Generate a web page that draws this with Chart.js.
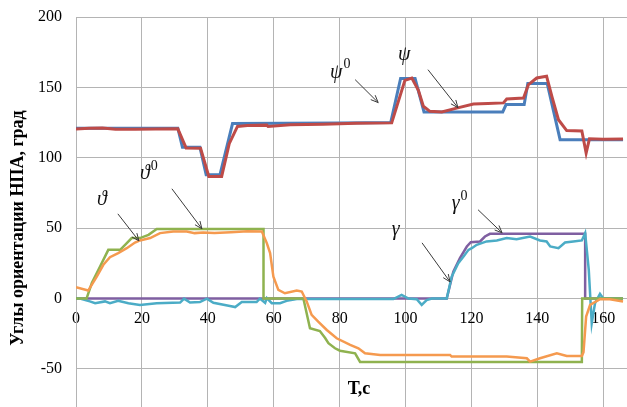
<!DOCTYPE html>
<html>
<head>
<meta charset="utf-8">
<script src="https://cdn.jsdelivr.net/npm/chart.js@4.4.1/dist/chart.umd.min.js"></script>
<style>
html, body { margin: 0; padding: 0; background: #fff; }
canvas { display: block; }
</style>
</head>
<body>
<canvas id="chart" width="627" height="407"></canvas>
<script>
// time axis, c
var xTicks = [0, 20, 40, 60, 80, 100, 120, 140, 160];
var yTicks = [-50, 0, 50, 100, 150, 200];

// psi0 - heading command
var psi0T = [0, 30.9, 32.3, 37.6, 39.5, 43.7, 47.5, 80, 95.5, 98.5, 102.9, 105.6, 129.5, 130.5, 136, 137.1, 143, 146.9, 166];
var psi0V = [121, 121, 107.5, 107.5, 88, 88, 124.3, 124.7, 125, 156.3, 156.3, 132.6, 132.6, 137.8, 137.8, 152.7, 152.7, 112.9, 112.9];

// psi - heading
var psiT = [0, 4, 8, 12, 18, 24, 30.9, 33.4, 37.8, 40.3, 44.2, 46.5, 49, 52, 57.9, 58.3, 65, 75, 85, 95.8,
    99.8, 101.9, 103.9, 105.4, 107.4, 111, 115.5, 120.6, 125, 129.7, 130.7, 135.8, 137.3, 139.8, 142.8, 144.4,
    146.4, 148.9, 153.5, 154.8, 155.8, 160, 166];
var psiV = [120.5, 121, 121.2, 120.3, 120.2, 120.4, 120.6, 107, 106.8, 86.8, 86.8, 110, 122.3, 123, 123.2, 122.2, 123.4, 123.8, 124.5, 124.8,
    155, 156.7, 148, 136.6, 133, 132.5, 135.3, 138.2, 138.5, 139, 141.8, 142.5, 152, 156.7, 157.9, 143.7,
    127, 119.3, 119, 103.4, 113.5, 113.2, 113.4];

// theta0 - pitch command
var theta0T = [0, 3.2, 4.8, 7.3, 9.8, 13.4, 14.9, 16.9, 19.4, 22, 24.5, 56.9, 56.9, 69, 71, 74, 75.6, 76.6, 78.6, 80.1,
    84.7, 86.2, 153.5, 153.6, 166];
var theta0V = [0, 0, 11, 22.8, 34.6, 34.6, 38.2, 43, 43, 45.3, 49.4, 49.4, 0, 0, -21, -23, -28, -31.7, -35.3, -37,
    -38.9, -45, -45, 0, 0];

// theta - pitch
var thetaT = [0, 3.7, 6.3, 8.3, 10.3, 12.8, 15.4, 17.9, 19.4, 22.5, 25.5, 29.5, 33.6, 36, 38.6, 42, 47, 52, 56.4, 57.9,
    58.9, 59.9, 61.4, 63.4, 67, 68.5, 70, 71.5, 73.5, 76.1, 79.1, 83.2, 85.7, 87.7, 92.3, 113.5, 114, 130.7, 136.8, 137.8,
    140.8, 145.9, 148.9, 153.5, 154, 154.8, 156, 159, 162, 166];
var thetaV = [8.1, 5.7, 15.6, 24, 29.4, 32.3, 35.8, 39.8, 41.3, 43, 46.5, 47.7, 47.7, 46.5, 47, 46.5, 47.2, 47.8, 47.7, 39.4,
    32.3, 15.6, 6.2, 3.8, 5.7, 5, -2, -11.6, -16.4, -22.3, -28.2, -32.9, -35.3, -38.8, -40, -40, -41.2, -41.2, -42.4, -44.8,
    -42.4, -38.9, -40.8, -40.8, -38, -12.8, -4.5, -0.4, -0.4, -2];

// gamma0 - roll command
var gamma0T = [0, 112.5, 114.5, 116.5, 118.6, 119.8, 122.6, 124.1, 125.6, 154.5, 154.5, 166];
var gamma0V = [0, 0, 19.2, 28.7, 37, 40.1, 40.6, 44.1, 46, 46, 0, 0];

// gamma - roll
var gammaT = [0, 1.2, 4.2, 5.8, 8.8, 10.3, 12.8, 15.9, 19.4, 24.5, 31.6, 32.8, 34.6, 37.6, 39.7, 41.7, 46.7, 48.3, 50.3, 54.8,
    55.8, 57.4, 57.9, 59.4, 61.9, 63.9, 67, 96.3, 98.8, 100.9, 103.4, 104.9, 106.4, 108, 112.5, 114, 116, 117.6, 119.1, 120.1,
    121.6, 124.6, 127.7, 130.7, 133.7, 137.8, 140.8, 142.8, 143.9, 146.4, 148.4, 150.9, 153.5, 154.5, 155.6, 156.5, 157.5, 159, 160, 166];
var gammaV = [0, 0, -2, -3.3, -2, -3.3, -1.5, -3.3, -4.5, -3.3, -2.8, 0, -2.8, -2.5, 0, -3, -5.2, -6, -2.5, -2.5,
    0, -3, 0.3, -3.3, -3.3, -1.6, -0.3, -0.3, 2.6, 0, -0.5, -4.5, -1, 0, 0, 15.6, 25.2, 29.9, 34.6, 35.8,
    38.2, 40.6, 41.3, 43, 42.2, 44.1, 41.3, 40.6, 37, 35.8, 39.8, 40.6, 41.3, 46.5, 20.4, -17.5, -3.3, 3.3, 0, 0];

// curve names with arrows, in data units
var notes = [
    { text: '\u03C8', sup: '0', t: 77.1, v: 160.5, from: [84.7, 155.5], to: [91.7, 139.2] },
    { text: '\u03C8', sup: '', t: 97.7, v: 173.4, from: [106.8, 162.6], to: [115.9, 135.6] },
    { text: '\u03D1', sup: '0', t: 19.4, v: 88.6, from: [29.1, 78], to: [38.2, 49.6] },
    { text: '\u03D1', sup: '', t: 6.4, v: 70.2, from: [12.7, 60.2], to: [19.1, 41] },
    { text: '\u03B3', sup: '', t: 95.8, v: 48.9, from: [105, 39.6], to: [113.5, 11.9] },
    { text: '\u03B3', sup: '0', t: 114, v: 67.2, from: [122, 63.1], to: [129.3, 46.7] }
];

var gridColor = '#b4b4b4';
var serif = '"Liberation Serif", "Times New Roman", serif';

function points(ts, vs) {
    return ts.map(function (t, i) {
        return { x: t, y: vs[i] };
    });
}

function line(data, color, width) {
    return {
        data: data,
        borderColor: color,
        borderWidth: width,
        pointRadius: 0,
        tension: 0,
        fill: false
    };
}

function arrow(ctx, x1, y1, x2, y2) {
    var a = Math.atan2(y2 - y1, x2 - x1);
    var h = 8;
    ctx.beginPath();
    ctx.moveTo(x1, y1);
    ctx.lineTo(x2, y2);
    ctx.moveTo(x2 - h * Math.cos(a - 0.4), y2 - h * Math.sin(a - 0.4));
    ctx.lineTo(x2, y2);
    ctx.lineTo(x2 - h * Math.cos(a + 0.4), y2 - h * Math.sin(a + 0.4));
    ctx.stroke();
}

var overlay = {
    id: 'overlay',
    afterDraw: function (chart) {
        var ctx = chart.ctx;
        var sx = chart.scales.x, sy = chart.scales.y;
        ctx.save();
        ctx.strokeStyle = '#3a3a3a';
        ctx.lineWidth = 1;
        ctx.fillStyle = '#111';
        ctx.textBaseline = 'middle';
        ctx.textAlign = 'left';
        notes.forEach(function (n) {
            var px = sx.getPixelForValue(n.t), py = sy.getPixelForValue(n.v);
            ctx.font = 'italic 20px ' + serif;
            ctx.fillText(n.text, px, py);
            if (n.sup) {
                var w = ctx.measureText(n.text).width;
                ctx.font = '14px ' + serif;
                ctx.fillText(n.sup, px + w + 1, py - 8);
            }
            arrow(ctx, sx.getPixelForValue(n.from[0]), sy.getPixelForValue(n.from[1]),
                sx.getPixelForValue(n.to[0]), sy.getPixelForValue(n.to[1]));
        });

        // axis titles
        ctx.fillStyle = '#000';
        ctx.textAlign = 'center';
        ctx.font = 'bold 18px ' + serif;
        ctx.fillText('\u0422,\u0441', 359, 389);
        ctx.translate(18, 228);
        ctx.rotate(-Math.PI / 2);
        ctx.fillText('Углы ориентации НПА, град', 0, 0);
        ctx.restore();
    }
};

var ctx = document.getElementById('chart');
new Chart(ctx, {
    type: 'line',
    data: {
        datasets: [
            line(points(psiT, psiV), '#be4b48', 3),
            line(points(psi0T, psi0V), '#4a7ebb', 3),
            line(points(thetaT, thetaV), '#f59a4f', 2.5),
            line(points(theta0T, theta0V), '#8fb24f', 2.5),
            line(points(gammaT, gammaV), '#4bacc6', 2.5),
            line(points(gamma0T, gamma0V), '#7f5fa1', 2.5)
        ]
    },
    options: {
        responsive: false,
        animation: false,
        devicePixelRatio: 1,
        layout: { padding: { top: 17, right: 0, bottom: 0, left: 0 } },
        plugins: {
            legend: { display: false },
            tooltip: { enabled: false }
        },
        scales: {
            x: {
                type: 'linear',
                min: 0,
                max: 167.2,
                position: { y: 0 },
                afterFit: function (axis) {
                    axis.height = 0;
                    axis.paddingTop = 0;
                    axis.paddingBottom = 0;
                },
                afterBuildTicks: function (axis) {
                    axis.ticks = xTicks.map(function (v) { return { value: v }; });
                },
                grid: { color: gridColor, lineWidth: 1, drawTicks: false },
                border: { color: gridColor, width: 1 },
                ticks: {
                    padding: 11,
                    maxRotation: 0,
                    color: '#000',
                    font: { family: serif, size: 16 }
                }
            },
            y: {
                min: -77,
                max: 200,
                afterFit: function (axis) {
                    axis.width = 76;
                    axis.paddingTop = 0;
                    axis.paddingBottom = 0;
                },
                afterBuildTicks: function (axis) {
                    axis.ticks = yTicks.map(function (v) { return { value: v }; });
                },
                grid: { color: gridColor, lineWidth: 1, drawTicks: false },
                border: { color: gridColor, width: 1 },
                ticks: {
                    padding: 14,
                    color: '#000',
                    font: { family: serif, size: 16 }
                }
            }
        }
    },
    plugins: [overlay]
});
</script>
</body>
</html>
